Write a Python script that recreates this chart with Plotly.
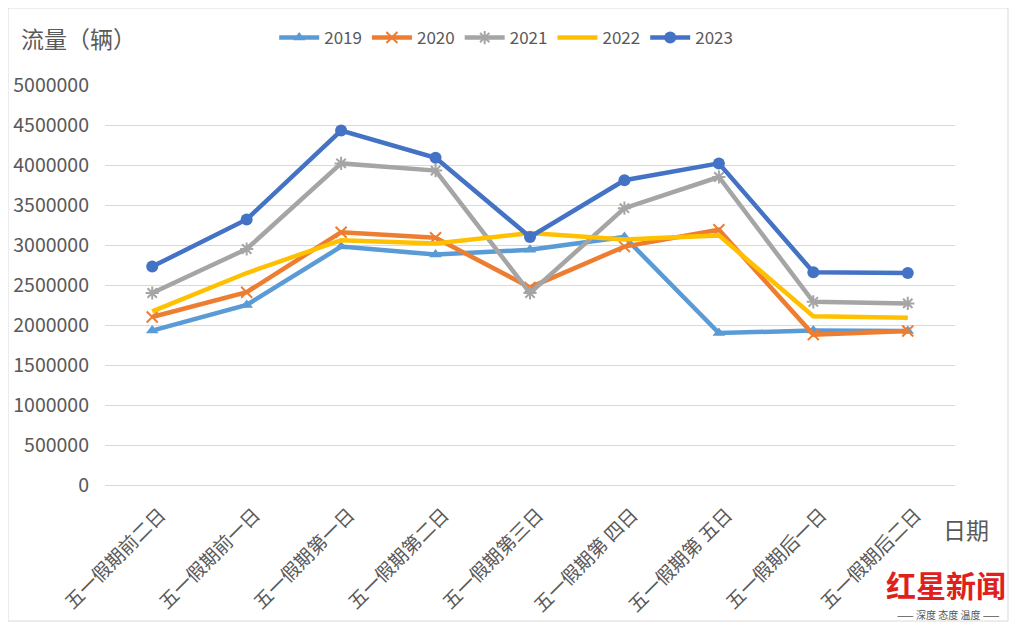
import plotly.graph_objects as go

categories = ["五一假期前二日", "五一假期前一日", "五一假期第一日", "五一假期第二日",
              "五一假期第三日", "五一假期第 四日", "五一假期第 五日", "五一假期后一日", "五一假期后二日"]
v2019 = [1930000, 2250000, 2980000, 2880000, 2940000, 3100000, 1900000, 1930000, 1925000]
v2020 = [2100000, 2410000, 3160000, 3090000, 2470000, 2980000, 3190000, 1880000, 1925000]
v2021 = [2400000, 2950000, 4020000, 3930000, 2400000, 3460000, 3850000, 2290000, 2270000]
v2022 = [2170000, 2650000, 3060000, 3020000, 3150000, 3070000, 3120000, 2110000, 2090000]
v2023 = [2730000, 3320000, 4430000, 4090000, 3100000, 3810000, 4020000, 2660000, 2650000]
y_ticks = [0, 500000, 1000000, 1500000, 2000000, 2500000, 3000000, 3500000, 4000000, 4500000, 5000000]

FONT = "Noto Sans CJK SC"
TXT = "#595959"

series = [
    ("2019", v2019, "#5B9BD5", dict(symbol="triangle-up", size=11)),
    ("2020", v2020, "#ED7D31", dict(symbol="x-thin-open", size=11, line=dict(width=2, color="#ED7D31"))),
    ("2021", v2021, "#A5A5A5", dict(symbol="asterisk-open", size=11, line=dict(width=2, color="#A5A5A5"))),
    ("2022", v2022, "#FFC000", None),
    ("2023", v2023, "#4472C4", dict(symbol="circle", size=12)),
]

fig = go.Figure()
for name, vals, color, marker in series:
    if marker is None:
        fig.add_trace(go.Scatter(x=categories, y=vals, name=name, mode="lines",
                                 line=dict(color=color, width=4.5)))
    else:
        m = dict(color=color)
        m.update(marker)
        fig.add_trace(go.Scatter(x=categories, y=vals, name=name, mode="lines+markers",
                                 line=dict(color=color, width=4.5), marker=m))

fig.update_layout(
    width=1002, height=616,
    margin=dict(l=97, r=55, t=77, b=139, autoexpand=False),
    paper_bgcolor="white", plot_bgcolor="white",
    font=dict(family=FONT, color=TXT, size=17),
    showlegend=True,
    legend=dict(orientation="h", x=0.472, xanchor="center", y=1.1175, yanchor="middle",
                font=dict(size=17, color=TXT, family=FONT), itemwidth=40,
                tracegroupgap=0, bgcolor="rgba(0,0,0,0)"),
    xaxis=dict(type="category", tickangle=-45, showgrid=False, showline=False, automargin=False,
               ticks="", ticklabelstandoff=14, ticklabelshift=8,
               tickfont=dict(size=19, color=TXT, family=FONT),
               range=[-0.5, 8.5]),
    yaxis=dict(range=[0, 5000000], tickvals=y_ticks, tickformat="d", automargin=False,
               showgrid=True, gridcolor="#D9D9D9", gridwidth=1,
               zeroline=True, zerolinecolor="#D9D9D9", zerolinewidth=1,
               showline=False, ticks="", ticklabelstandoff=15,
               tickfont=dict(size=19.5, color=TXT, family=FONT)),
)

fig.add_annotation(text="流量（辆）", xref="paper", yref="paper",
                   x=(19 - 105) / 850, y=(485 - 38) / 400, xanchor="left", yanchor="middle",
                   showarrow=False, font=dict(size=23, color=TXT, family=FONT))
fig.add_annotation(text="日期", xref="paper", yref="paper",
                   x=(941 - 105) / 850, y=(485 - 529) / 400, xanchor="left", yanchor="middle",
                   showarrow=False, font=dict(size=23, color=TXT, family=FONT))
# watermark
fig.add_annotation(text="<b>红星新闻</b>", xref="paper", yref="paper",
                   x=(1008 - 105) / 850, y=(485 - 584) / 400, xanchor="right", yanchor="middle",
                   showarrow=False, font=dict(size=30, color="#E0201B", family=FONT))
fig.add_annotation(text="—— 深度 态度 温度 ——", xref="paper", yref="paper",
                   x=(948 - 105) / 850, y=(485 - 614) / 400, xanchor="center", yanchor="middle",
                   showarrow=False, font=dict(size=10, color="#555555", family=FONT))

fig.add_shape(type="rect", xref="paper", yref="paper",
              x0=(8 - 105) / 850, x1=(1008 - 105) / 850,
              y0=(485 - 621) / 400, y1=(485 - 8) / 400,
              line=dict(color="#D9D9D9", width=1), fillcolor="rgba(0,0,0,0)", layer="below")

fig.write_html("out.html")
